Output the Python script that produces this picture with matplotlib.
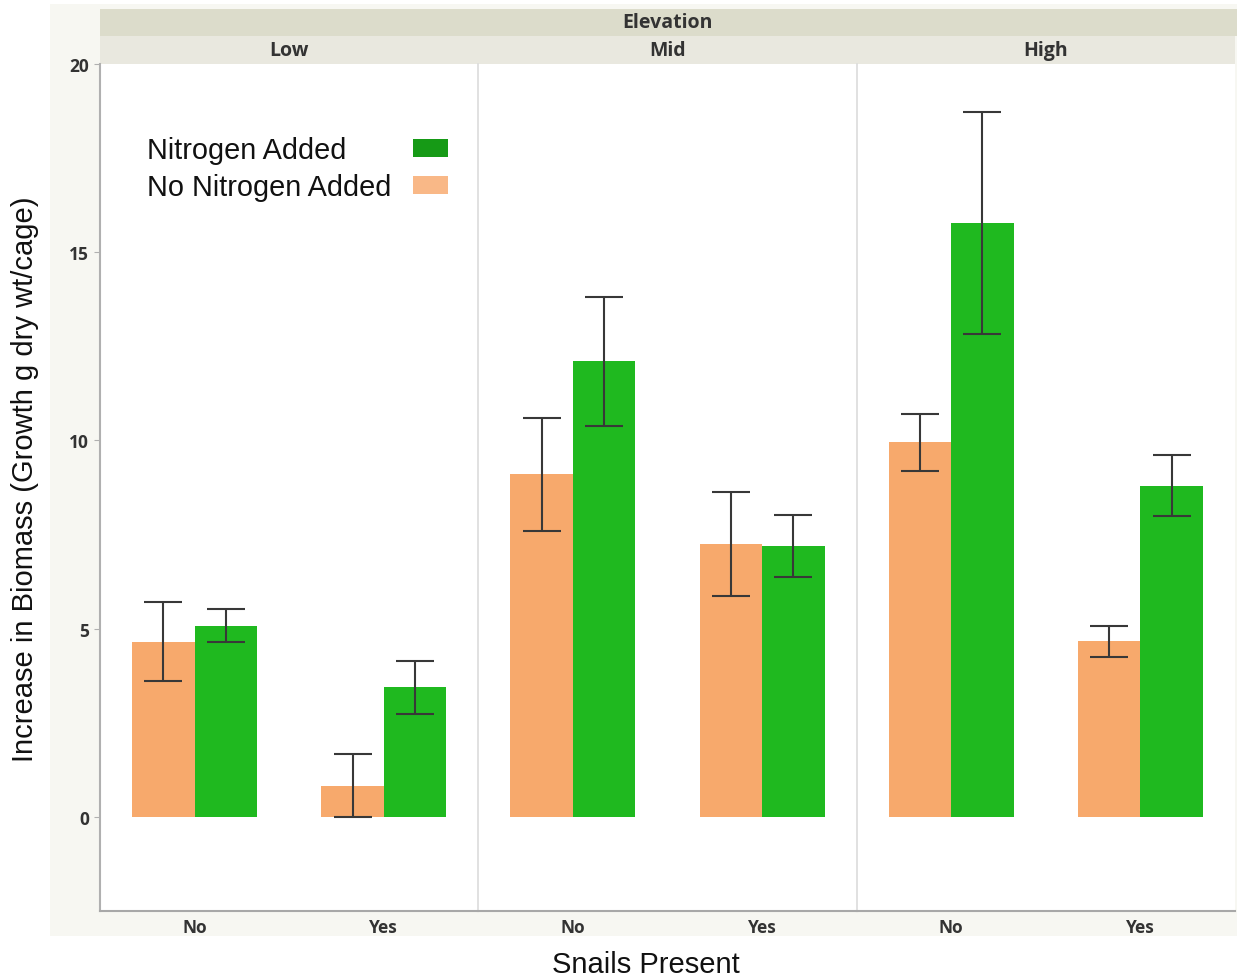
import numpy as np
import matplotlib
matplotlib.use("Agg")
import matplotlib.pyplot as plt
from matplotlib.patches import Rectangle

elevations = ["Low", "Mid", "High"]
snails = ["No", "Yes"]

# mean growth and error half-widths, one row per elevation, columns = snails No/Yes
no_n_mean = [[4.65, 0.83], [9.10, 7.25], [9.95, 4.67]]
no_n_err = [[1.05, 0.83], [1.50, 1.38], [0.75, 0.41]]
n_mean = [[5.08, 3.44], [12.10, 7.20], [15.78, 8.80]]
n_err = [[0.44, 0.70], [1.71, 0.82], [2.95, 0.82]]

y_ticks = [0, 5, 10, 15, 20]
legend_labels = ["Nitrogen Added", "No Nitrogen Added"]

ORANGE = "#f7a96c"
GREEN = "#1fb91f"
LEG_GREEN = "#169a16"
LEG_ORANGE = "#f9b887"
ERR = "#383838"
TXT = "#333333"

W, H = 1237, 979
fig = plt.figure(figsize=(W / 100, H / 100), dpi=100)
fig.patch.set_facecolor("white")

def fx(px):
    return px / W

def fy(py):
    return 1 - py / H

# off-white graph frame
fig.patches.append(Rectangle((fx(50), fy(937)), 1 - fx(50), fy(5) - fy(937),
                             transform=fig.transFigure, facecolor="#f7f7f2",
                             edgecolor="none", zorder=-2))

left, right = 100, 1235
top, bottom = 65, 912
pw = (right - left) / 3

# strips: group title and one per elevation
fig.patches.append(Rectangle((fx(left), fy(37)), fx(right + 2) - fx(left), fy(10) - fy(37),
                             transform=fig.transFigure, facecolor="#dcdccb",
                             edgecolor="none", zorder=-1))
fig.text(fx((left + right) / 2), fy(23.5), "Elevation", ha="center", va="center",
         fontsize=14, fontweight="bold", color=TXT, family="Open Sans")

bw = 0.33
x = np.arange(len(snails))
axes = []
for i, elev in enumerate(elevations):
    x0 = left + i * pw
    ax = fig.add_axes([fx(x0), fy(bottom), fx(pw), fy(top) - fy(bottom)])
    ax.set_zorder(2)
    ax.set_facecolor("white")
    axes.append(ax)
    fig.patches.append(Rectangle((fx(x0), fy(65)), fx(pw), fy(37) - fy(65),
                                 transform=fig.transFigure, facecolor="#e9e8df",
                                 edgecolor="none", zorder=-1))
    fig.text(fx(x0 + pw / 2), fy(51), elev, ha="center", va="center",
             fontsize=14, fontweight="bold", color=TXT, family="Open Sans")

    ax.bar(x - bw / 2, no_n_mean[i], bw, color=ORANGE, zorder=2)
    ax.bar(x + bw / 2, n_mean[i], bw, color=GREEN, zorder=2)
    ax.errorbar(x - bw / 2, no_n_mean[i], yerr=no_n_err[i], fmt="none",
                ecolor=ERR, elinewidth=1.5, capsize=14, capthick=1.5, zorder=3)
    ax.errorbar(x + bw / 2, n_mean[i], yerr=n_err[i], fmt="none",
                ecolor=ERR, elinewidth=1.5, capsize=14, capthick=1.5, zorder=3)

    ax.set_xlim(-0.5, 1.5)
    ax.set_ylim(-2.5, 20)
    ax.set_xticks(x)
    ax.set_xticklabels(snails, fontsize=12.5, fontweight="bold", color=TXT,
                       family="Open Sans")
    ax.tick_params(axis="x", length=0, pad=5)
    for s in ["top", "right"]:
        ax.spines[s].set_visible(False)
    ax.spines["bottom"].set_color("#a8a8a8")
    ax.spines["bottom"].set_linewidth(1.5)
    if i == 0:
        ax.spines["left"].set_color("#b0b0b0")
        ax.spines["left"].set_linewidth(1.5)
        ax.set_yticks(y_ticks)
        ax.set_yticklabels([str(t) for t in y_ticks], fontsize=12.5, fontweight="bold",
                           color=TXT, family="Open Sans")
        ax.tick_params(axis="y", length=4, color="#b0b0b0", pad=4)
    else:
        ax.spines["left"].set_color("#dcdcdc")
        ax.spines["left"].set_linewidth(1.2)
        ax.set_yticks([])

# legend: left-aligned labels with colour swatches to the right
lax = axes[0]
for label, color, ty in zip(legend_labels, [LEG_GREEN, LEG_ORANGE], [0.902, 0.858]):
    lax.text(0.124, ty, label, transform=lax.transAxes, ha="left", va="center_baseline",
             fontsize=20.8, family="Liberation Sans", color="#111111", zorder=5)
    lax.add_patch(Rectangle((0.827, ty - 0.0115), 0.0925, 0.0213, transform=lax.transAxes,
                            facecolor=color, edgecolor="none", zorder=5))

fig.text(fx(646), fy(965), "Snails Present", ha="center", va="center",
         fontsize=21, family="Liberation Sans", color="#111111")
fig.text(fx(25), fy(479), "Increase in Biomass (Growth g dry wt/cage)",
         ha="center", va="center", rotation=90, fontsize=21,
         family="Liberation Sans", color="#111111")

fig.savefig("out.png", dpi=100)
